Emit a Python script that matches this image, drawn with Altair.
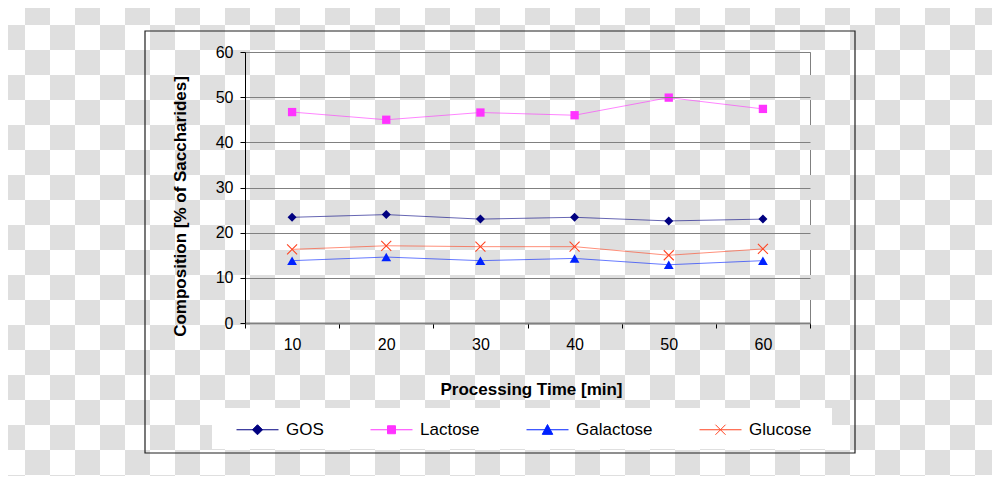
import altair as alt
import pandas as pd

# ---- data ----
times = [10, 20, 30, 40, 50, 60]
series_names = ["GOS", "Lactose", "Galactose", "Glucose"]
gos = [23.4, 24.0, 23.0, 23.4, 22.6, 23.0]
lactose = [46.7, 45.0, 46.6, 46.0, 49.9, 47.4]
galactose = [13.8, 14.6, 13.8, 14.3, 12.9, 13.8]
glucose = [16.3, 17.1, 16.9, 16.9, 15.0, 16.4]
y_ticks = [0, 10, 20, 30, 40, 50, 60]

series_values = {"GOS": gos, "Lactose": lactose, "Galactose": galactose, "Glucose": glucose}
rows = []
for name in series_names:
    for t, v in zip(times, series_values[name]):
        rows.append({"time": t, "value": v, "series": name})
df = pd.DataFrame(rows)

colors = ["#000080", "#ff33ff", "#0022ff", "#ff4422"]
series_color = dict(zip(series_names, colors))
marker_shapes = {
    "GOS": "diamond",
    "Lactose": "square",
    "Galactose": "triangle-up",
    "Glucose": "M-1,-1L1,1M1,-1L-1,1",
}
marker_sizes = {"GOS": 81, "Lactose": 69, "Galactose": 95, "Glucose": 100}
legend_paths = [
    "M-1,0H1M0,-0.24L0.24,0L0,0.24L-0.24,0Z",
    "M-1,0H1M-0.19,-0.19H0.19V0.19H-0.19Z",
    "M-1,0H1M0,-0.25L0.25,0.22L-0.25,0.22Z",
    "M-1,0H1M-0.24,-0.24L0.24,0.24M0.24,-0.24L-0.24,0.24",
]

FONT = "Liberation Sans"
W, H = 565, 271
PAD_L, PAD_T = 237, 44

x_enc = alt.X(
    "time:O",
    scale=alt.Scale(type="band", paddingInner=0, paddingOuter=0),
    bandPosition=0.5,
    axis=alt.Axis(
        title="Processing Time [min]",
        labelAngle=0,
        tickBand="extent",
        titleX=286,
        titleY=66,
        titleAlign="center",
        titleBaseline="middle",
        zindex=1,
    ),
)
y_enc = alt.Y(
    "value:Q",
    scale=alt.Scale(domain=[0, 60], nice=False),
    axis=alt.Axis(
        title="Composition [% of Saccharides]",
        values=y_ticks,
        grid=True,
        titleAngle=270,
        titleX=-65,
        titleY=154,
        titleAlign="center",
        titleBaseline="middle",
        zindex=1,
    ),
)

# decorative checkerboard (transparency pattern of the reference)
checker = (
    alt.Chart(alt.sequence(0, 800, as_="i"))
    .transform_calculate(c="datum.i % 40", r="floor(datum.i / 40)")
    .transform_filter("(datum.c + datum.r) % 2 == 1")
    .transform_calculate(
        x0=f"datum.c * 25 - {PAD_L + 8}",
        x1=f"datum.c * 25 - {PAD_L + 8} + 25",
        y0=f"datum.r * 25 - {PAD_T + 8}",
        y1=f"datum.r * 25 - {PAD_T + 8} + 25",
    )
    .mark_rect(color="#dfdfdf", strokeWidth=0)
    .encode(
        x=alt.X("x0:Q", scale=None, axis=None),
        x2="x1:Q",
        y=alt.Y("y0:Q", scale=None, axis=None),
        y2="y1:Q",
    )
)

one = alt.Data(values=[{"k": 1}])
frame = alt.Chart(one).mark_rect(fillOpacity=0, stroke="#202020", strokeWidth=1.2).encode(
    x=alt.value(-100), x2=alt.value(610), y=alt.value(-21), y2=alt.value(401)
)
legend_box = alt.Chart(one).mark_rect(color="white").encode(
    x=alt.value(-33), x2=alt.value(587), y=alt.value(356), y2=alt.value(397)
)

series_layers = []
for name in series_names:
    base = alt.Chart(df).transform_filter(alt.datum.series == name)
    series_layers.append(
        base.mark_line(color=series_color[name], strokeWidth=1, opacity=0.6).encode(x=x_enc, y=y_enc)
    )
for name in series_names:
    base = alt.Chart(df).transform_filter(alt.datum.series == name)
    series_layers.append(
        base.mark_point(
            shape=marker_shapes[name],
            size=marker_sizes[name],
            filled=name != "Glucose",
            color=series_color[name],
            opacity=1,
            strokeWidth=1.1,
        ).encode(x=x_enc, y=y_enc)
    )

legend_kw = dict(
    orient="none",
    legendX=-9,
    legendY=356,
    direction="horizontal",
    columns=4,
    columnPadding=44,
    padding=0,
    title=None,
    symbolSize=1764,
    symbolStrokeWidth=1,
    symbolOpacity=1,
    labelFont=FONT,
    labelFontSize=17,
    labelColor="black",
    labelOffset=7,
    zindex=2,
)
legend_layer = alt.Chart(df).mark_point(opacity=0, strokeWidth=1).encode(
    x=x_enc,
    y=y_enc,
    fill=alt.Fill("series:N", scale=alt.Scale(domain=series_names, range=colors), legend=alt.Legend(**legend_kw)),
    stroke=alt.Stroke("series:N", scale=alt.Scale(domain=series_names, range=colors), legend=alt.Legend(**legend_kw)),
    shape=alt.Shape(
        "series:N",
        scale=alt.Scale(domain=series_names, range=legend_paths),
        legend=alt.Legend(**legend_kw),
    ),
)

chart = (
    alt.layer(checker, frame, legend_box, *series_layers, legend_layer)
    .properties(
        width=W,
        height=H,
        autosize=alt.AutoSizeParams(type="none"),
        padding={"left": PAD_L, "top": PAD_T, "right": 984 - PAD_L - W, "bottom": 468 - PAD_T - H},
        background="white",
    )
    .configure_view(stroke="#808080", strokeWidth=1)
    .configure_axis(
        labelFont=FONT,
        labelFontSize=16,
        labelColor="black",
        titleFont=FONT,
        titleFontSize=17,
        titleFontWeight="bold",
        titleColor="black",
        tickColor="black",
        tickSize=5,
        gridColor="#808080",
        gridWidth=1,
    )
    .configure_axisY(domainColor="black", domainWidth=1, labelPadding=7)
    .configure_axisX(domainColor="#808080", domainWidth=2, labelPadding=8, grid=False)
)

chart.save("out.html", embed_options={"renderer": "svg", "actions": False})
